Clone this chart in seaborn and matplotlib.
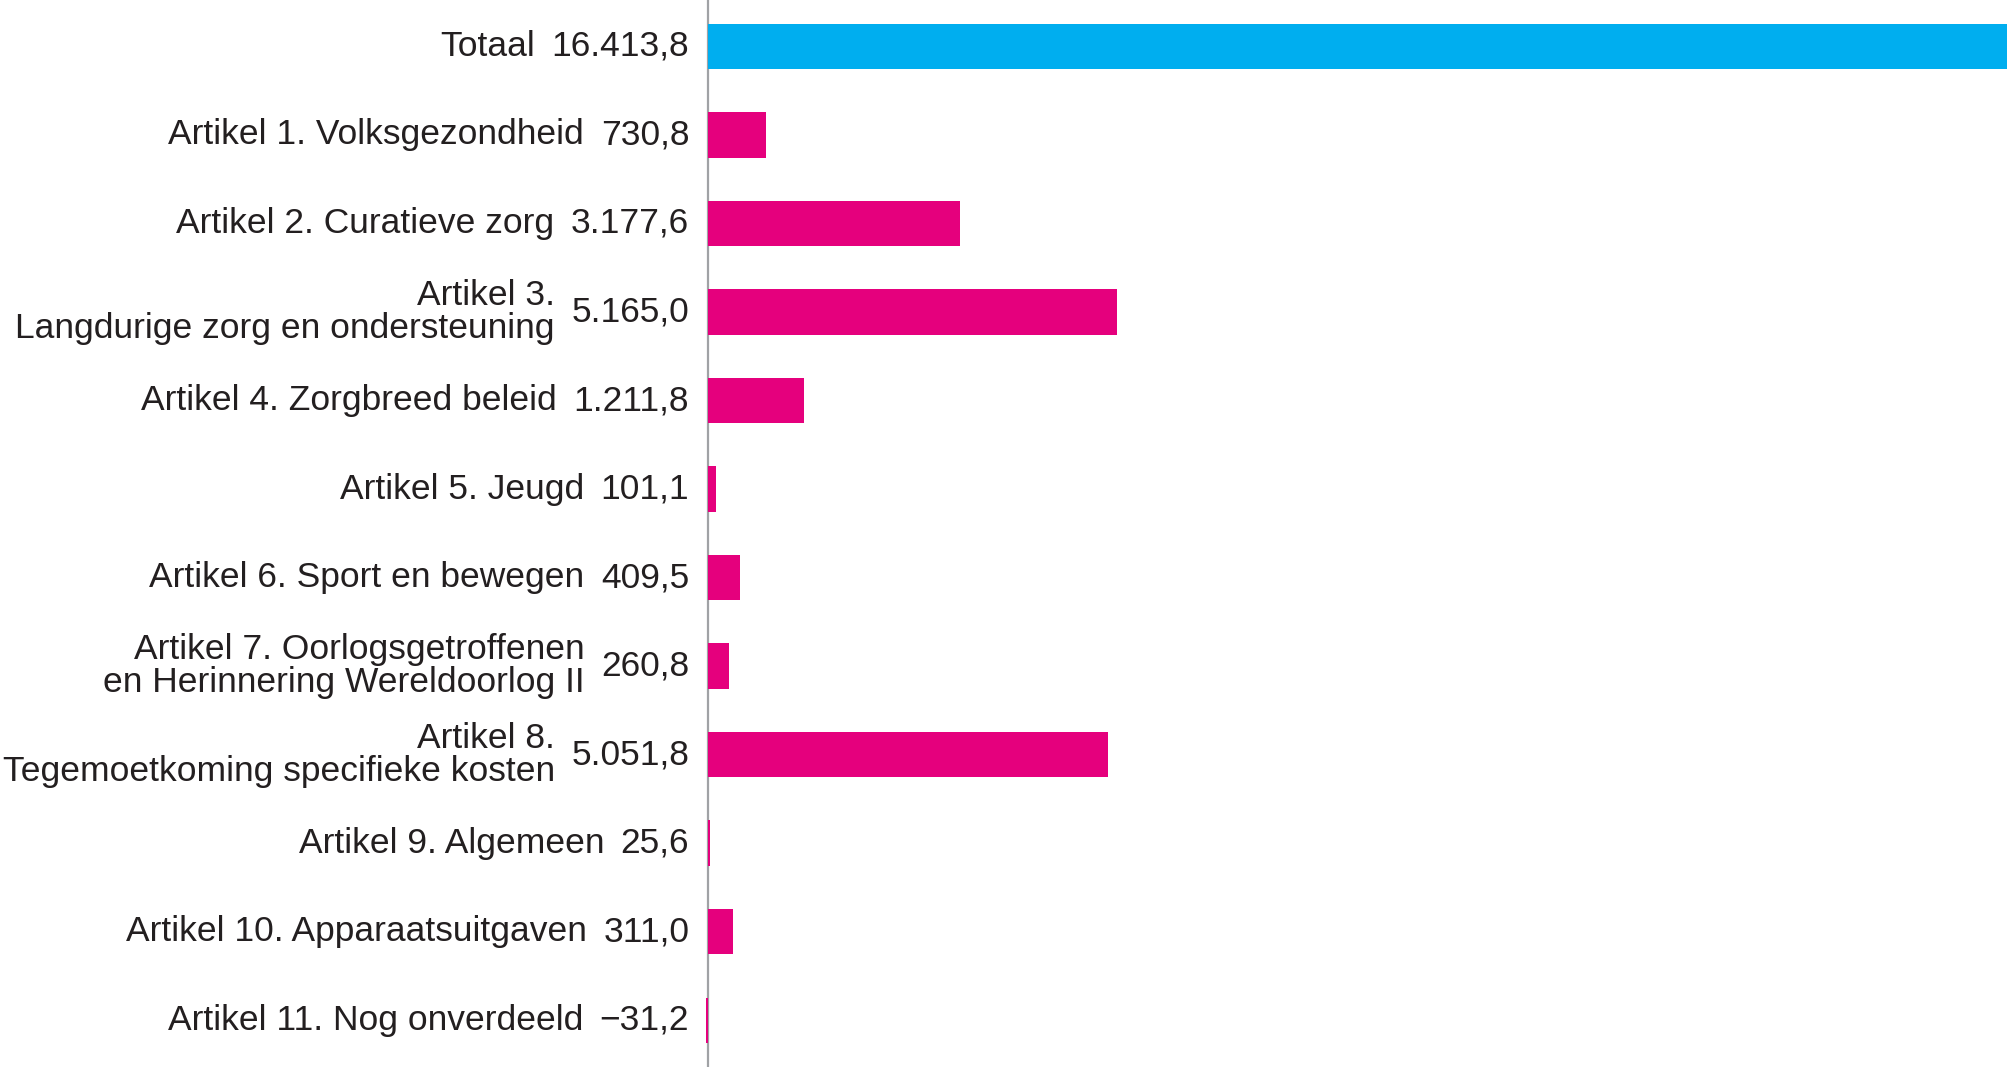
import matplotlib
matplotlib.use("Agg")
import matplotlib.pyplot as plt
import seaborn as sns

# Uitgaven per artikel (mln euro)
labels = [
    "Totaal",
    "Artikel 1. Volksgezondheid",
    "Artikel 2. Curatieve zorg",
    "Artikel 3.\nLangdurige zorg en ondersteuning",
    "Artikel 4. Zorgbreed beleid",
    "Artikel 5. Jeugd",
    "Artikel 6. Sport en bewegen",
    "Artikel 7. Oorlogsgetroffenen\nen Herinnering Wereldoorlog II",
    "Artikel 8.\nTegemoetkoming specifieke kosten",
    "Artikel 9. Algemeen",
    "Artikel 10. Apparaatsuitgaven",
    "Artikel 11. Nog onverdeeld",
]
values = [16413.8, 730.8, 3177.6, 5165.0, 1211.8, 101.1, 409.5, 260.8, 5051.8, 25.6, 311.0, -31.2]
colors = ["#00aeef"] + ["#e5007d"] * 11

TEXT_COLOR = "#231f20"
FONT_SIZE = 25.5


# Dutch number format: 16.413,8 and -31,2 with a real minus sign
def fmt_nl(v):
    s = f"{abs(v):,.1f}".replace(",", "X").replace(".", ",").replace("X", ".")
    return ("\u2212" + s) if v < 0 else s


sns.set_theme(style="white")
plt.rcParams["font.family"] = ["Liberation Sans", "DejaVu Sans"]

fig = plt.figure(figsize=(20.08, 10.67), dpi=100)
ax = fig.add_axes([0, 0, 1, 1])

sns.barplot(x=values, y=labels, hue=labels, palette=colors, orient="h",
            width=0.51, legend=False, ax=ax, saturation=1)
for bar in ax.patches:
    bar.set_zorder(3)
    bar.set_linewidth(0)

# zero line sits at ~708 px, totaal bar runs to the right edge
xmax = values[0]
ax.set_xlim(-xmax * 708 / 1300, xmax)
ax.set_ylim(len(labels) - 0.47, -0.525)
ax.axvline(0, color="#a0a2a5", lw=1.6, zorder=1)

ax.set_xticks([])
ax.set_yticks([])
for s in ax.spines.values():
    s.set_visible(False)

for i, (lab, v) in enumerate(zip(labels, values)):
    val_txt = ax.annotate(fmt_nl(v), xy=(0, i), xytext=(-13.5, 0),
                          textcoords="offset points", ha="right", va="center",
                          fontsize=FONT_SIZE, color=TEXT_COLOR)
    ax.annotate(lab, xy=(0, 0.5), xycoords=val_txt, xytext=(-12, 0),
                textcoords="offset points", ha="right", va="center",
                fontsize=FONT_SIZE, color=TEXT_COLOR, linespacing=1.0,
                multialignment="right")

fig.savefig("out.png", dpi=100)
